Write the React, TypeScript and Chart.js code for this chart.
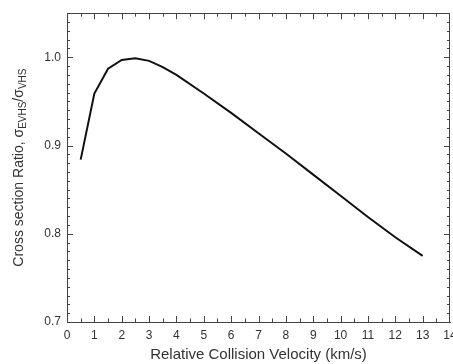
import React, { useEffect, useRef } from "react";
import { Chart, registerables } from "chart.js";

Chart.register(...registerables);

const velocity = [0.5, 1.0, 1.5, 2.0, 2.5, 3.0, 3.5, 4, 5, 6, 7, 8, 9, 10, 11, 12, 13];
const ratio = [0.884, 0.959, 0.987, 0.997, 0.999, 0.996, 0.989, 0.980, 0.959, 0.937, 0.914, 0.891, 0.867, 0.843, 0.819, 0.796, 0.775];

const xTitle = "Relative Collision Velocity (km/s)";
const yTitleMain = "Cross section Ratio, ";
const yTitleSub1 = "EVHS";
const yTitleSub2 = "VHS";
const sigma = "\u03c3";

const FONT = "'Liberation Sans', Arial, sans-serif";
const AXIS_COLOR = "#444";
const TEXT_COLOR = "#333";

const tickPlugin = {
  id: "inwardTicks",
  afterDraw(chart: any) {
    const ctx = chart.ctx;
    const x = chart.scales.x;
    const y = chart.scales.y;
    const area = chart.chartArea;
    ctx.save();
    ctx.strokeStyle = AXIS_COLOR;
    ctx.lineWidth = 1;
    ctx.beginPath();
    ctx.moveTo(area.left, Math.round(area.top) + 0.5);
    ctx.lineTo(area.right, Math.round(area.top) + 0.5);
    ctx.moveTo(Math.round(area.right) - 0.5, area.top);
    ctx.lineTo(Math.round(area.right) - 0.5, area.bottom);
    for (let i = 1; i < 28; i++) {
      const v = i * 0.5;
      const px = Math.round(x.getPixelForValue(v)) + 0.5;
      const len = i % 2 === 0 ? 6 : 3.5;
      ctx.moveTo(px, area.bottom);
      ctx.lineTo(px, area.bottom - len);
      ctx.moveTo(px, area.top);
      ctx.lineTo(px, area.top + len);
    }
    for (let i = 1; i < 35; i++) {
      const v = 0.7 + i * 0.01;
      const py = Math.round(y.getPixelForValue(v)) + 0.5;
      const len = i % 10 === 0 ? 6 : 3;
      ctx.moveTo(area.left, py);
      ctx.lineTo(area.left + len, py);
      ctx.moveTo(area.right, py);
      ctx.lineTo(area.right - len, py);
    }
    ctx.stroke();
    ctx.restore();

    ctx.save();
    const cx = 19;
    const cy = (area.top + area.bottom) / 2;
    ctx.translate(cx, cy);
    ctx.rotate(-Math.PI / 2);
    ctx.fillStyle = TEXT_COLOR;
    ctx.textBaseline = "middle";
    const big = "14px " + FONT;
    const small = "10px " + FONT;
    const parts: [string, string, number][] = [
      [yTitleMain, big, 0],
      [sigma, big, 0],
      [yTitleSub1, small, 4],
      ["/", big, 0],
      [sigma, big, 0],
      [yTitleSub2, small, 4],
    ];
    let total = 0;
    for (const [t, f] of parts) {
      ctx.font = f;
      total += ctx.measureText(t).width;
    }
    let pos = -total / 2;
    for (const [t, f, dy] of parts) {
      ctx.font = f;
      ctx.textAlign = "left";
      ctx.fillText(t, pos, dy);
      pos += ctx.measureText(t).width;
    }
    ctx.restore();
  },
};

export default function App() {
  const ref = useRef<HTMLCanvasElement>(null);
  useEffect(() => {
    document.body.style.margin = "0";
    if (!ref.current) return;
    const chart = new Chart(ref.current, {
      type: "line",
      data: {
        datasets: [
          {
            data: velocity.map((v, i) => ({ x: v, y: ratio[i] })),
            borderColor: "#111",
            borderWidth: 2,
            pointRadius: 0,
            tension: 0,
            fill: false,
          },
        ],
      },
      options: {
        animation: false,
        responsive: false,
        maintainAspectRatio: false,
        layout: { padding: { top: 13, right: 20, bottom: 0, left: 0 } },
        plugins: { legend: { display: false }, tooltip: { enabled: false } },
        scales: {
          x: {
            type: "linear",
            min: 0,
            max: 14,
            grid: { display: false, drawTicks: false },
            border: { display: true, color: AXIS_COLOR, width: 1 },
            ticks: {
              stepSize: 1,
              padding: 6,
              color: TEXT_COLOR,
              font: { family: FONT, size: 12 },
              maxRotation: 0,
              callback: (v: any) => String(v),
            },
            title: {
              display: true,
              text: xTitle,
              color: TEXT_COLOR,
              font: { family: FONT, size: 15 },
              padding: { top: 0, bottom: 0 },
            },
            afterFit: (s: any) => {
              s.height = 42;
            },
          },
          y: {
            type: "linear",
            min: 0.7,
            max: 1.05,
            grid: { display: false, drawTicks: false },
            border: { display: true, color: AXIS_COLOR, width: 1 },
            ticks: {
              stepSize: 0.1,
              includeBounds: false,
              padding: 6,
              color: TEXT_COLOR,
              font: { family: FONT, size: 12 },
              callback: (v: any) => Number(v).toFixed(1),
            },
            afterFit: (s: any) => {
              s.width = 67;
            },
          },
        },
      },
      plugins: [tickPlugin],
    });
    return () => chart.destroy();
  }, []);
  return (
    <div style={{ width: 453, height: 364, overflow: "hidden", background: "#fff" }}>
      <canvas ref={ref} width={470} height={364} style={{ display: "block" }} />
    </div>
  );
}
